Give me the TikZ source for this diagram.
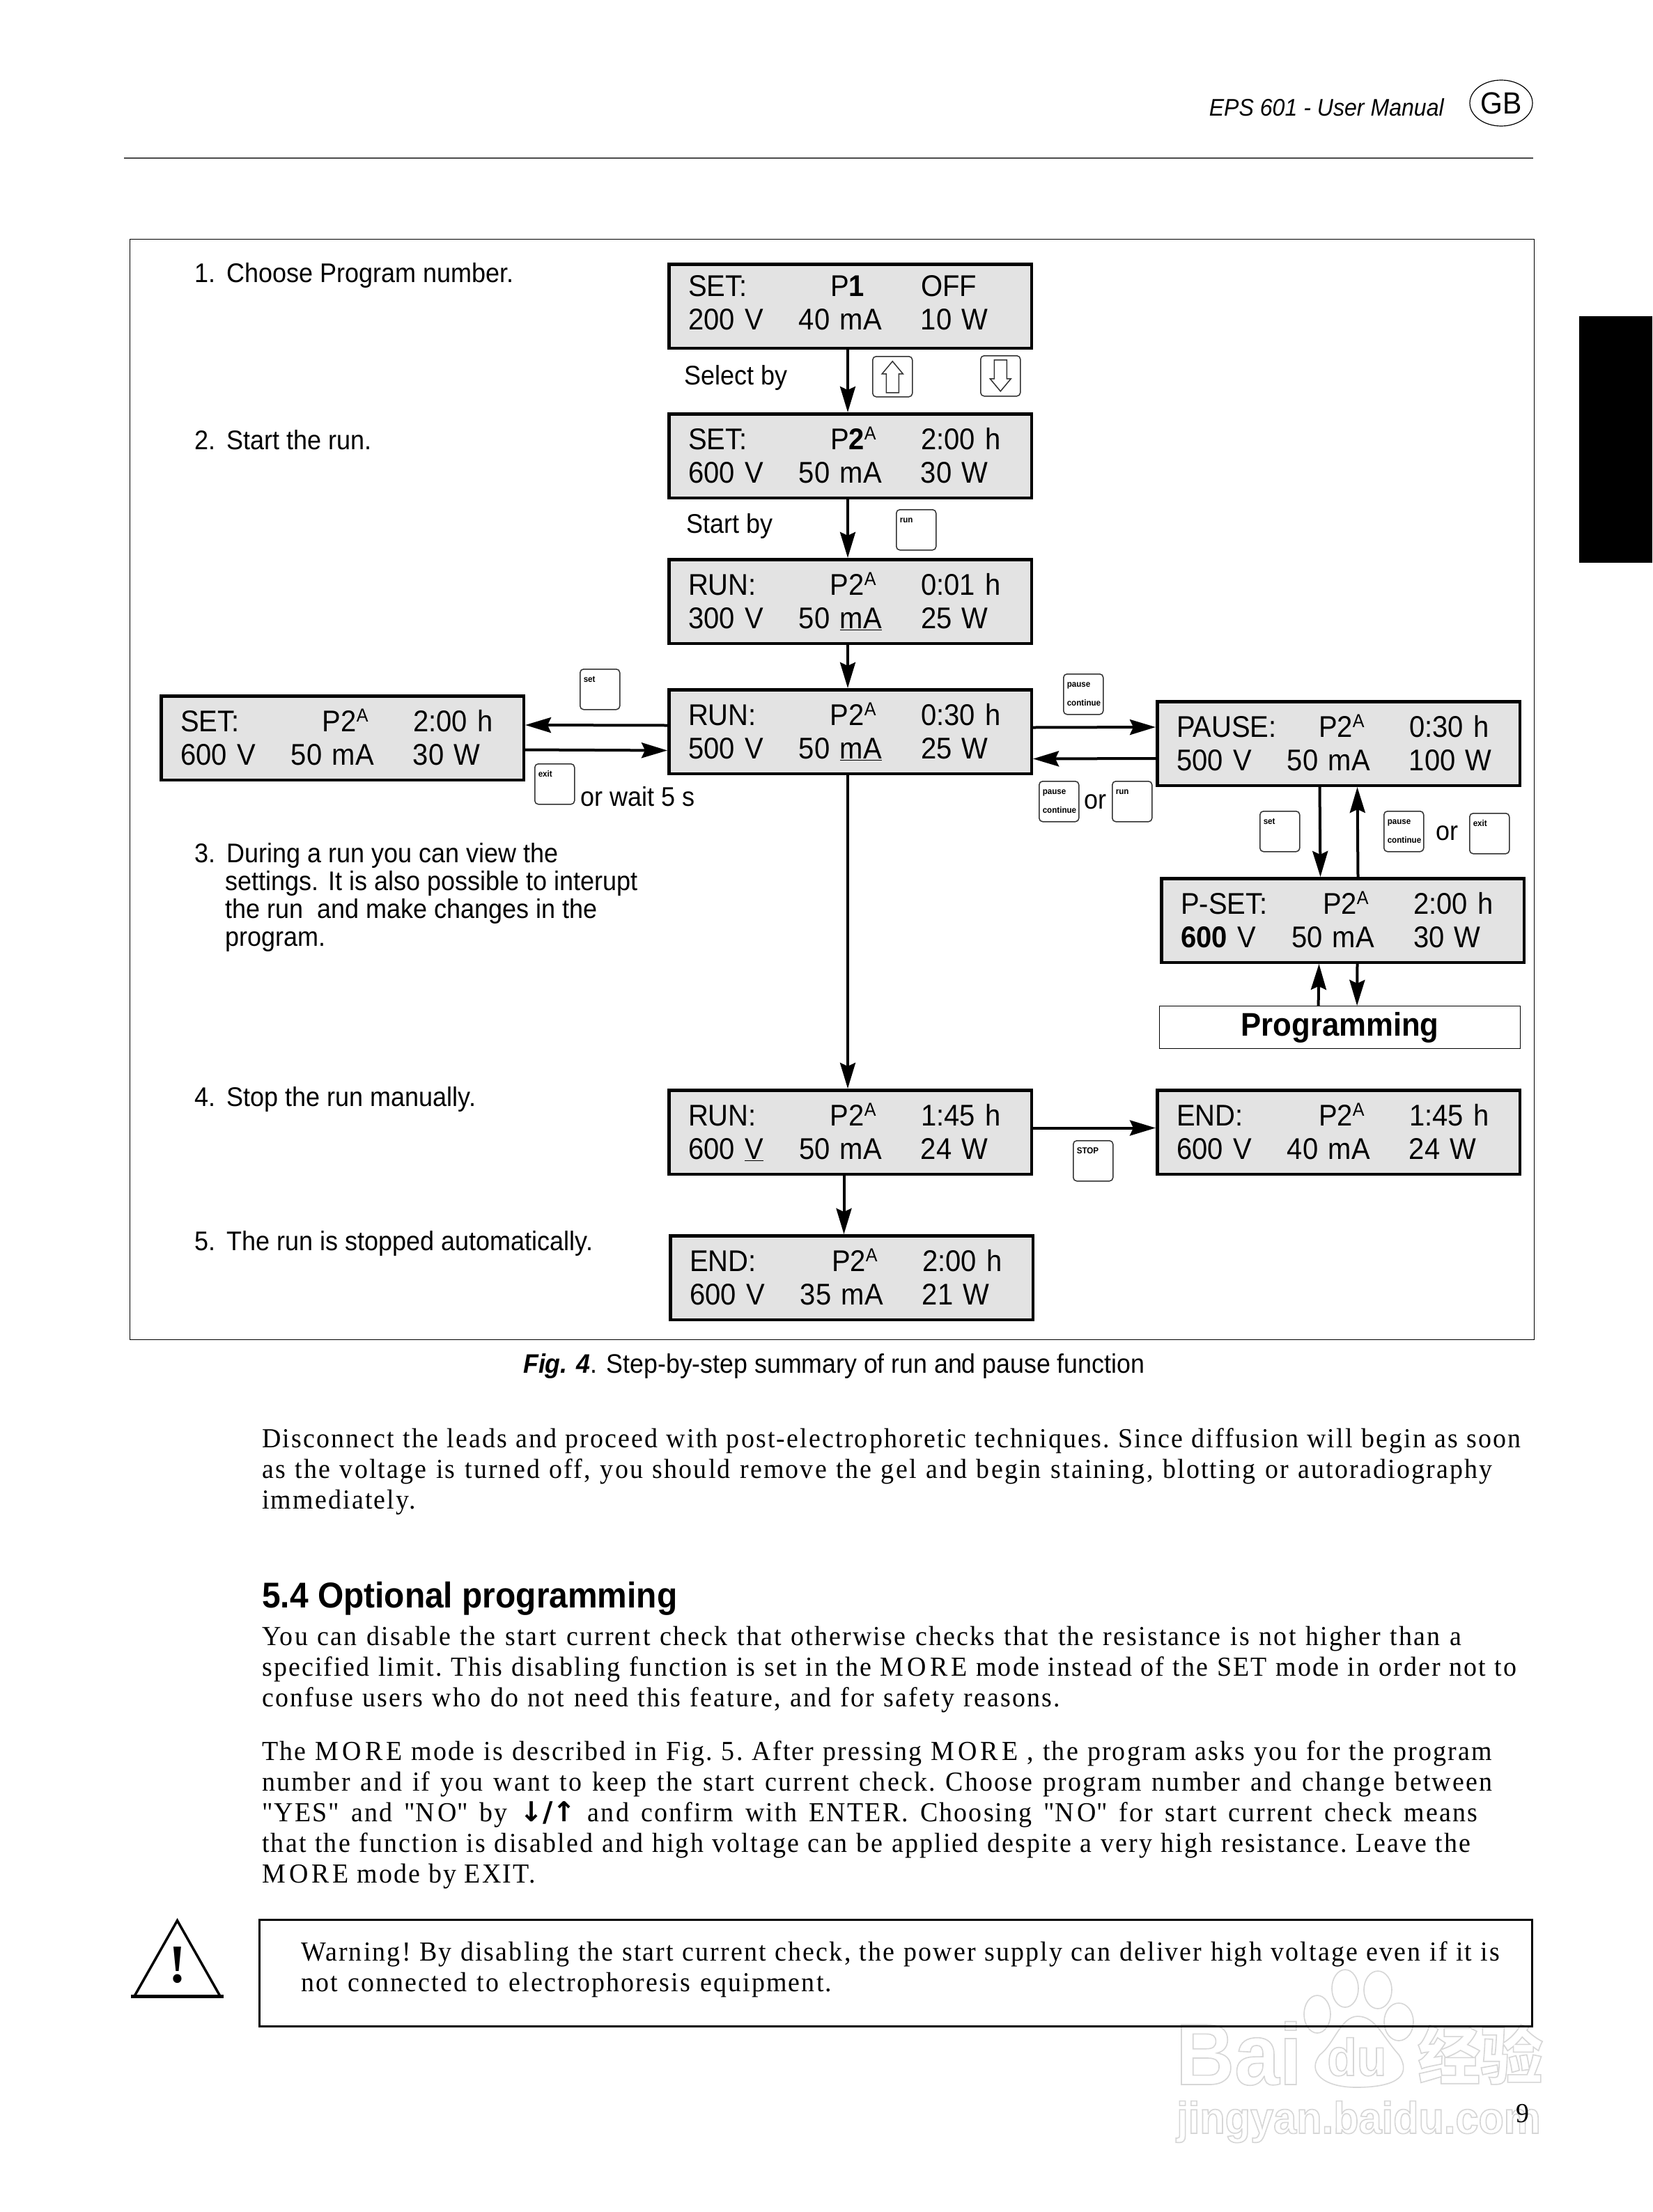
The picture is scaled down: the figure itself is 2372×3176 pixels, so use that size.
\documentclass[tikz,border=0pt]{standalone}
\usepackage{xcolor}
\usepackage{fontspec}
\usepackage{tikz}
\usetikzlibrary{arrows.meta, shapes.geometric}
\setmainfont[FakeStretch=0.93]{Liberation Sans}
\newfontfamily\bodyfam[FakeStretch=0.96,LetterSpace=5.5]{Liberation Serif}
\newfontfamily\symfam{DejaVu Sans}
\newfontfamily\cjkfam{Noto Sans CJK SC}
\definecolor{lcdgray}{RGB}{227,227,227}
\definecolor{keyborder}{RGB}{50,50,50}
\newcommand{\lcdfont}{\fontsize{43}{48}\selectfont}
\newcommand{\notefont}{\fontsize{38.7}{40}\selectfont}
\newcommand{\keyfont}{\fontsize{12.5}{27}\selectfont\bfseries}
\newcommand{\bodyfont}{\bodyfam\fontsize{39.5}{43.8}\selectfont\frenchspacing}
\newcommand{\lcdA}{\smash{\raisebox{14pt}{\fontsize{27}{27}\selectfont A}}}
\newcommand{\lcdtext}[6]{\makebox[204pt][l]{#1}\makebox[130pt][l]{#2}#3\\\makebox[159pt][l]{#4}\makebox[175pt][l]{#5}#6}
\newcommand{\keytext}[2]{\rule{0pt}{19pt}#1\\#2\rule[-12pt]{0pt}{0pt}}
\newcommand{\bodyline}[2]{\makebox[#1pt][s]{#2}}
\newcommand{\capword}[1]{{\addfontfeature{LetterSpace=13}#1}}
\newcommand{\wmtext}[1]{\special{pdf:code q 1 Tr 1.6 w 0.84 G}#1\special{pdf:code Q}}
\begin{document}
\begin{tikzpicture}[
    x=1pt,
    y=-1pt,
    lcd/.style={draw=black, line width=4.5pt, fill=lcdgray, anchor=north west, inner xsep=27.75pt, inner ysep=0pt, text height=51.25pt, text depth=69.25pt, text width=465pt, align=left, font=\lcdfont},
    note/.style={anchor=base west, inner sep=0pt, align=left, font=\notefont},
    keybtn/.style={draw=keyborder, line width=1.5pt, rounded corners=5pt, fill=white, anchor=north west, inner xsep=5pt, inner ysep=0pt, text width=47pt, align=left, font=\keyfont},
    hollow/.style={draw=keyborder, line width=1.5pt, fill=white, line join=miter},
    bodytext/.style={anchor=base west, inner sep=0pt, align=left, font=\bodyfont},
    arrow/.style={-{Stealth[length=37pt, width=22pt, inset=5pt]}, line width=4pt, draw=black},
    wmline/.style={draw=black!16, line width=1.6pt},
    wmark/.style={anchor=base west, inner sep=0pt}
]
\useasboundingbox (0,0) rectangle (2372,3176);
\fill[white] (0,0) rectangle (2372,3176);
\draw[wmline] (1891,2892) ellipse [x radius=19, y radius=27];
\draw[wmline] (1931,2855) ellipse [x radius=19, y radius=27];
\draw[wmline] (1978,2857) ellipse [x radius=20, y radius=27];
\draw[wmline] (2008,2903) ellipse [x radius=21, y radius=27];
\draw[wmline] (1949,2895) .. controls (1925,2895) and (1915,2935) .. (1895,2950) .. controls (1875,2975) and (1900,2997) .. (1947,2997) .. controls (1995,2997) and (2030,2985) .. (2008,2950) .. controls (1985,2925) and (1975,2895) .. (1949,2895);
\node[wmark, font=\fontsize{125}{125}\selectfont\bfseries] (wmbai) at (1688,2993) {\wmtext{Bai}};
\node[wmark, font=\fontsize{75}{75}\selectfont\bfseries] (wmdu) at (1905,2980) {\wmtext{du}};
\node[wmark, font=\cjkfam\fontsize{90}{90}\selectfont\bfseries] (wmcn) at (2035,2985) {\wmtext{经验}};
\node[wmark, font=\fontsize{64}{64}\selectfont\bfseries] (wmurl) at (1689,3063) {\wmtext{jingyan.baidu.com}};
\node[anchor=base east, inner sep=0pt, font=\fontsize{34.5}{34.5}\selectfont\itshape] (header) at (2073,167) {EPS 601 - User Manual};
\node[draw, ellipse, line width=1.2pt, inner sep=0pt, minimum width=90pt, minimum height=66pt, font=\fontsize{44}{44}\selectfont] (gb) at (2155,148) {GB};
\draw[line width=1.5pt, black!70] (178,227) -- (2201,227);
\fill[black] (2267,454) rectangle (2372,808);
\node[draw, line width=1.3pt, anchor=north west, minimum width=2016pt, minimum height=1580pt, inner sep=0pt] (frame) at (186,343) {};
\node[note] (step1) at (279.5,405) {1.\hspace{16pt}Choose Program number.};
\node[note] (step2) at (279.5,645) {2.\hspace{16pt}Start the run.};
\node[note] (step3) at (279.5,1358) {3.\hspace{16pt}During a run you can view the\\\hspace*{44pt}settings. It is also possible to interupt\\\hspace*{44pt}the run\ \ and make changes in the\\\hspace*{44pt}program.};
\node[note] (step4) at (279.5,1588) {4.\hspace{16pt}Stop the run manually.};
\node[note] (step5) at (279.5,1795) {5.\hspace{16pt}The run is stopped automatically.};
\node[lcd, text height=45.75pt, text depth=74.75pt] (setfirst) at (958,377) {\lcdtext{SET:}{P\textbf{1}}{OFF}{200 V}{40 mA}{10 W}};
\node[lcd] (setsecond) at (958,592) {\lcdtext{SET:}{P\textbf{2}\lcdA}{2:00 h}{600 V}{50 mA}{30 W}};
\node[lcd] (runstart) at (958,801) {\lcdtext{RUN:}{P2\lcdA}{0:01 h}{300 V}{50 \underline{mA}}{25 W}};
\node[lcd] (runmid) at (958,988) {\lcdtext{RUN:}{P2\lcdA}{0:30 h}{500 V}{50 \underline{mA}}{25 W}};
\node[lcd] (setview) at (229,997) {\lcdtext{SET:}{P2\lcdA}{2:00 h}{600 V}{50 mA}{30 W}};
\node[lcd] (pausebox) at (1659,1005) {\lcdtext{PAUSE:}{P2\lcdA}{0:30 h}{500 V}{50 mA}{100 W}};
\node[lcd] (psetbox) at (1665,1259) {\lcdtext{P-SET:}{P2\lcdA}{2:00 h}{\textbf{600} V}{50 mA}{30 W}};
\node[draw=black, line width=1.2pt, anchor=north west, minimum width=518pt, minimum height=61pt, inner sep=0pt, font=\fontsize{47}{47}\selectfont\bfseries] (programming) at (1664,1444) {Programming};
\node[lcd] (runstop) at (958,1563) {\lcdtext{RUN:}{P2\lcdA}{1:45 h}{600 \underline{V}}{50 mA}{24 W}};
\node[lcd] (endstop) at (1659,1563) {\lcdtext{END:}{P2\lcdA}{1:45 h}{600 V}{40 mA}{24 W}};
\node[lcd] (endauto) at (960,1772) {\lcdtext{END:}{P2\lcdA}{2:00 h}{600 V}{35 mA}{21 W}};
\node[note] (selectby) at (982,552) {Select by};
\node[note] (startby) at (985,765) {Start by};
\node[keybtn] (keyup) at (1252,511) {\keytext{}{}};
\draw[hollow] (keyup.center) ++(-9,23) -- ++(18,0) -- ++(0,-27) -- ++(6,0) -- ++(-15,-18) -- ++(-15,18) -- ++(6,0) -- cycle;
\node[keybtn] (keydown) at (1407,510) {\keytext{}{}};
\draw[hollow] (keydown.center) ++(-9,-23) -- ++(18,0) -- ++(0,27) -- ++(6,0) -- ++(-15,18) -- ++(-15,-18) -- ++(6,0) -- cycle;
\node[keybtn] (keyrun) at (1286,731) {\keytext{run}{}};
\node[keybtn] (keyset) at (832,960) {\keytext{set}{}};
\node[keybtn] (keyexit) at (767,1096) {\keytext{exit}{}};
\node[note] (waitfive) at (833,1157) {or wait 5 s};
\node[keybtn] (keypause) at (1526,967) {\keytext{pause}{continue}};
\node[keybtn] (keypausetwo) at (1491,1121) {\keytext{pause}{continue}};
\node[note] (ortwo) at (1556,1161) {or};
\node[keybtn] (keyruntwo) at (1596,1121) {\keytext{run}{}};
\node[keybtn] (keysettwo) at (1808,1164) {\keytext{set}{}};
\node[keybtn] (keypausethree) at (1986,1164) {\keytext{pause}{continue}};
\node[note] (orthree) at (2061,1206) {or};
\node[keybtn] (keyexittwo) at (2109,1167) {\keytext{exit}{}};
\node[keybtn] (keystop) at (1540,1637) {\keytext{STOP}{}};
\draw[arrow] ([xshift=-3.5pt]setfirst.south) -- ([xshift=-3.5pt]setsecond.north);
\draw[arrow] ([xshift=-3.5pt]setsecond.south) -- ([xshift=-3.5pt]runstart.north);
\draw[arrow] ([xshift=-3.5pt]runstart.south) -- ([xshift=-3.5pt]runmid.north);
\draw[arrow] ([yshift=9pt]runmid.west) -- ([yshift=18.5pt]setview.east);
\draw[arrow] ([yshift=-17pt]setview.east) -- ([yshift=-27pt]runmid.west);
\draw[arrow] ([yshift=6pt]runmid.east) -- ([yshift=23.5pt]pausebox.west);
\draw[arrow] ([yshift=-21.5pt]pausebox.west) -- ([yshift=-39pt]runmid.east);
\draw[arrow] ([xshift=-3.5pt]runmid.south) -- ([xshift=-3.5pt]runstop.north);
\draw[arrow] ([yshift=6pt]runstop.east) -- ([yshift=6pt]endstop.west);
\draw[arrow] ([xshift=-9pt]runstop.south) -- ([xshift=-11pt]endauto.north);
\draw[arrow] ([xshift=-27pt]pausebox.south) -- ([xshift=-32pt]psetbox.north);
\draw[arrow] ([xshift=22pt]psetbox.north) -- ([xshift=27pt]pausebox.south);
\draw[arrow] ([xshift=-31pt]programming.north) -- ([xshift=-34pt]psetbox.south);
\draw[arrow] ([xshift=21pt]psetbox.south) -- ([xshift=24.5pt]programming.north);
\node[anchor=base west, inner sep=0pt, font=\fontsize{38.4}{38.4}\selectfont] (caption) at (751,1971) {\textbf{\textit{Fig. 4}}. Step-by-step summary of run and pause function};
\node[bodytext] (para1) at (376,2166) {\bodyline{1807}{Disconnect the leads and proceed with post-electrophoretic techniques. Since diffusion will begin as soon}\\\bodyline{1766}{as the voltage is turned off, you should remove the gel and begin staining, blotting or autoradiography}\\immediately.};
\node[anchor=base west, inner sep=0pt, font=\fontsize{51.5}{51.5}\selectfont\bfseries] (heading) at (376,2308) {5.4 Optional programming};
\node[bodytext] (para2) at (376,2450) {\bodyline{1722}{You can disable the start current check that otherwise checks that the resistance is not higher than a}\\\bodyline{1801}{specified limit. This disabling function is set in the \capword{MORE} mode instead of the SET mode in order not to}\\\bodyline{1146}{confuse users who do not need this feature, and for safety reasons.}};
\node[bodytext] (para3) at (376,2703) {\bodyline{1766}{The \capword{MORE} mode is described in Fig. 5. After pressing \capword{MORE} , the program asks you for the program}\\\bodyline{1766}{number and if you want to keep the start current check. Choose program number and change between}\\\bodyline{1745}{"YES" and "\capword{NO}" by {\symfam\bfseries↓/↑} and confirm with ENTER. Choosing "\capword{NO}" for start current check means}\\\bodyline{1735}{that the function is disabled and high voltage can be applied despite a very high resistance. Leave the}\\\capword{MORE} mode by EXIT.};
\draw[line width=3.5pt, line join=miter] (193,2866) -- (316,2866) -- (254.5,2757.5) -- cycle;
\draw[line width=5pt] (188,2866.5) -- (321,2866.5);
\node[inner sep=0pt, font=\bodyfam\fontsize{78}{78}\selectfont\bfseries] (warnmark) at (254.5,2821) {!};
\node[draw=black, line width=3pt, anchor=north west, minimum width=1827pt, minimum height=153pt, inner sep=0pt] (warnbox) at (371,2755) {};
\node[bodytext] (warntext) at (432,2859) {\bodyline{1721}{Warning! By disabling the start current check, the power supply can deliver high voltage even if it is}\\\bodyline{762}{not connected to electrophoresis equipment.}};
\node[anchor=base west, inner sep=0pt, font=\bodyfam\fontsize{39.5}{39.5}\selectfont] (pagenum) at (2176,3047) {9};
\end{tikzpicture}
\end{document}
